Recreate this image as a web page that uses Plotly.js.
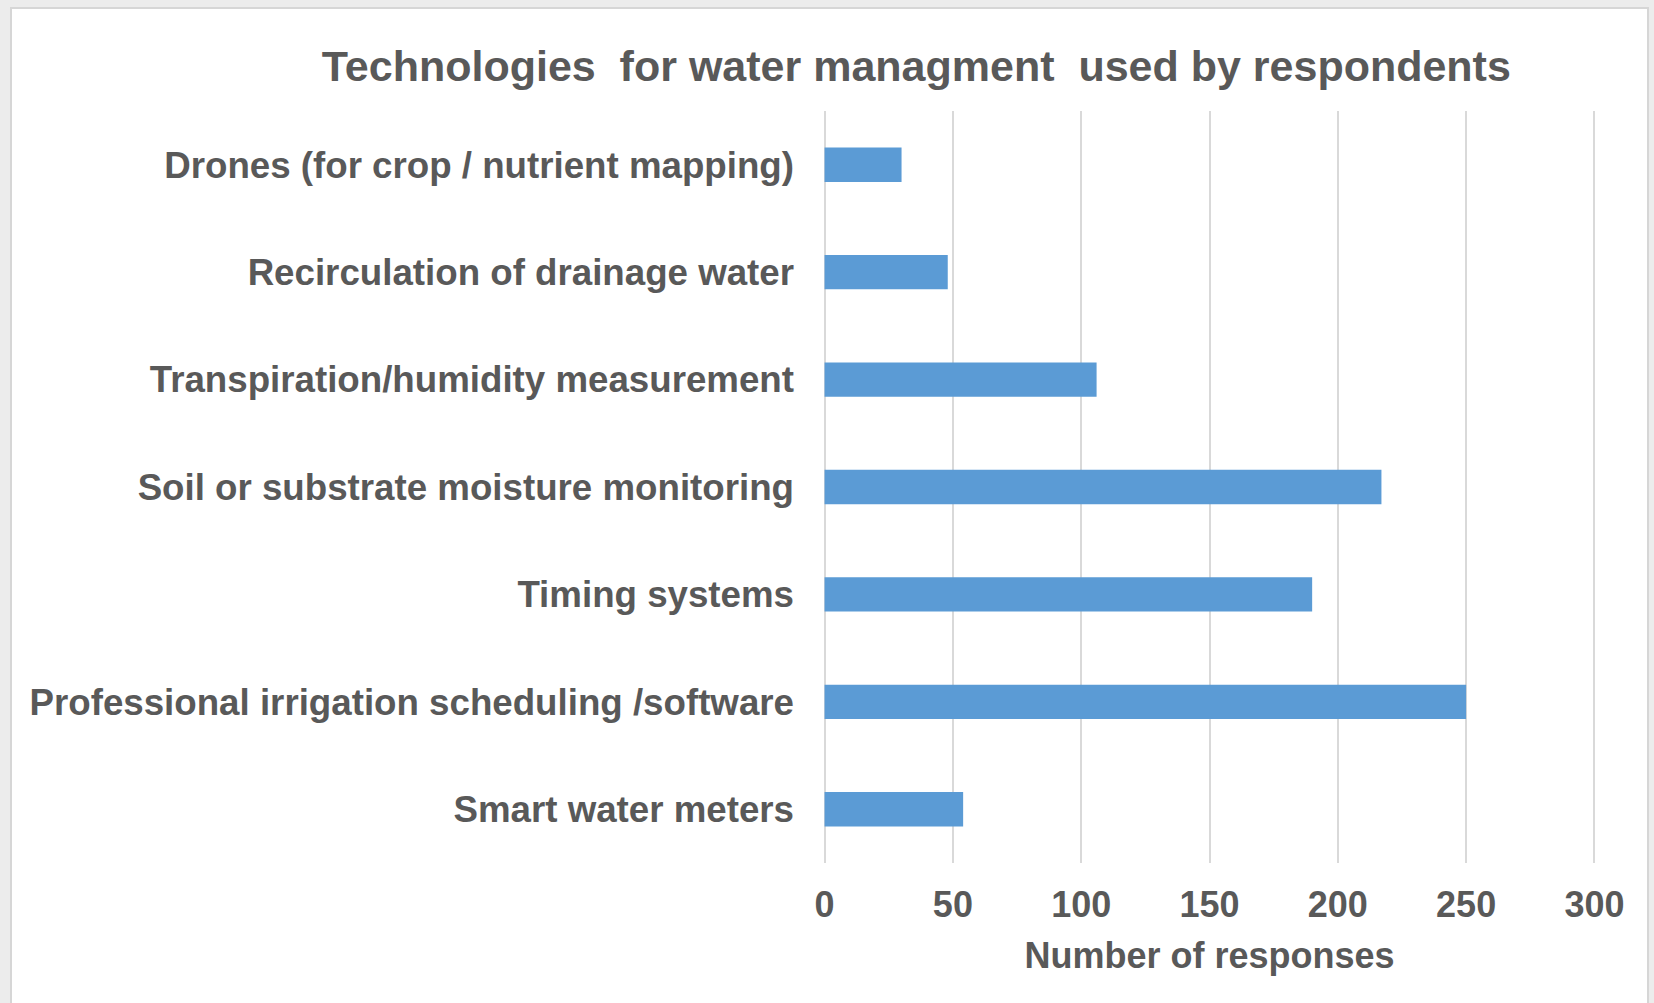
<!DOCTYPE html>
<html>
<head>
<meta charset="utf-8">
<script src="https://cdn.plot.ly/plotly-3.0.1.min.js"></script>
<style>
  html, body { margin: 0; padding: 0; background: #ececec; width: 1654px; height: 1003px; overflow: hidden; }
  #frame { position: absolute; left: 10px; top: 7px; width: 1639px; height: 1010px; background: #ffffff; border: 2px solid #d6d6d6; box-sizing: border-box; }
  #chart { position: absolute; left: 0; top: 0; width: 1654px; height: 1003px; }
</style>
</head>
<body>
<div id="frame"></div>
<div id="chart"></div>
<script>
// Categories listed bottom to top (Plotly category axis starts at the bottom)
const categories = [
  "Smart water meters",
  "Professional irrigation scheduling /software",
  "Timing systems",
  "Soil or substrate moisture monitoring",
  "Transpiration/humidity measurement",
  "Recirculation of drainage water",
  "Drones (for crop / nutrient mapping)"
];
const responses = [54, 250, 190, 217, 106, 48, 30];
const tickValues = [0, 50, 100, 150, 200, 250, 300];
const chartTitle = "Technologies  for water managment  used by respondents";
const xAxisTitle = "Number of responses";

const textColor = "#595959";
const fontFamily = "Liberation Sans, Arial, sans-serif";

const trace = {
  type: "bar",
  orientation: "h",
  x: responses,
  y: categories,
  marker: { color: "#5b9bd5", line: { width: 0 } },
  hoverinfo: "x+y"
};

const layout = {
  width: 1654,
  height: 1003,
  paper_bgcolor: "rgba(0,0,0,0)",
  plot_bgcolor: "rgba(0,0,0,0)",
  margin: { l: 822, r: 57, t: 111, b: 140, pad: 0 },
  showlegend: false,
  bargap: 0.68,
  font: { family: fontFamily, color: textColor, size: 36, weight: "bold" },
  title: {
    text: chartTitle,
    font: { family: fontFamily, color: textColor, size: 43, weight: "bold" },
    x: 0.554, xref: "container", xanchor: "center",
    y: 1 - 66 / 1003, yref: "container", yanchor: "middle"
  },
  xaxis: {
    range: [-1, 301],
    tickvals: tickValues,
    ticktext: tickValues.map(String),
    showgrid: true,
    gridcolor: "#d9d9d9",
    gridwidth: 2,
    zeroline: true,
    zerolinecolor: "#d9d9d9",
    zerolinewidth: 2,
    showline: false,
    ticks: "",
    ticklabelstandoff: 17,
    tickfont: { family: fontFamily, color: textColor, size: 36, weight: "bold" },
    title: {
      text: xAxisTitle,
      font: { family: fontFamily, color: textColor, size: 36, weight: "bold" },
      standoff: 18
    },
    fixedrange: true
  },
  yaxis: {
    type: "category",
    categoryorder: "array",
    categoryarray: categories,
    showgrid: false,
    zeroline: false,
    showline: false,
    ticks: "",
    ticklabelstandoff: 27,
    tickfont: { family: fontFamily, color: textColor, size: 36.7, weight: "bold" },
    fixedrange: true
  }
};

Plotly.newPlot("chart", [trace], layout, { displayModeBar: false, staticPlot: true });
</script>
</body>
</html>
